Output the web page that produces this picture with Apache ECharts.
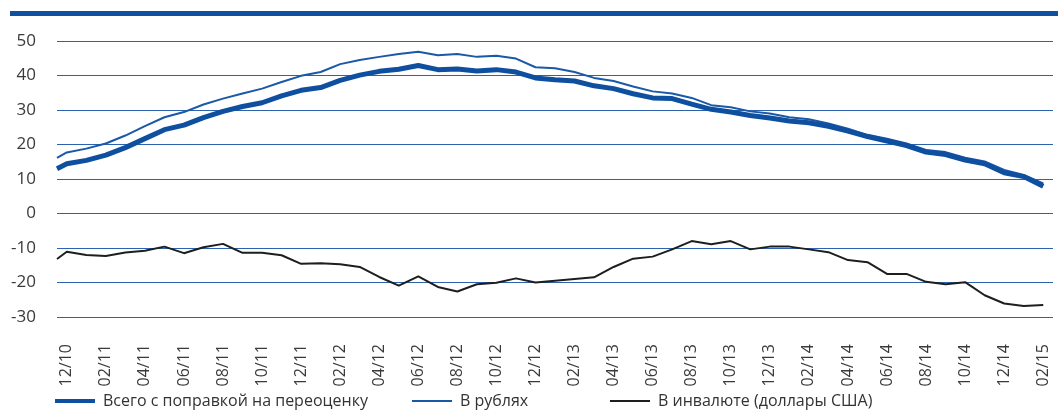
<!DOCTYPE html>
<html><head><meta charset="utf-8">
<script src="https://cdn.jsdelivr.net/npm/echarts@6/dist/echarts.min.js"></script>
<style>html,body{margin:0;padding:0;background:#fff}#c{width:1058px;height:412px}</style>
</head><body><div id="c"></div>
<script>
// Month labels (one per monthly data point, 12/10 ... 02/15)
const monthLabels = ['12/10',
 '01/11','02/11','03/11','04/11','05/11','06/11','07/11','08/11','09/11','10/11','11/11','12/11',
 '01/12','02/12','03/12','04/12','05/12','06/12','07/12','08/12','09/12','10/12','11/12','12/12',
 '01/13','02/13','03/13','04/13','05/13','06/13','07/13','08/13','09/13','10/13','11/13','12/13',
 '01/14','02/14','03/14','04/14','05/14','06/14','07/14','08/14','09/14','10/14','11/14','12/14',
 '01/15','02/15'];
// The series begin half a month before 12/10 (first value), then one value per month
const startPos = -0.5;
const seriesNames = ['Всего с поправкой на переоценку', 'В рублях', 'В инвалюте (доллары США)'];
const totalRevalued = [13.0,
 14.4,15.4,16.9,19.1,21.7,24.3,25.6,27.8,29.6,31.0,32.1,34.1,
 35.7,36.5,38.6,40.1,41.2,41.8,42.9,41.7,41.9,41.3,41.7,41.0,
 39.3,38.8,38.4,37.0,36.2,34.7,33.5,33.3,31.7,30.2,29.4,28.4,
 27.7,26.8,26.3,25.3,23.9,22.3,21.0,19.7,17.8,17.1,15.5,14.4,
 11.8,10.7,7.9];
const inRubles = [16.1,
 17.7,18.8,20.3,22.6,25.3,27.9,29.4,31.6,33.3,34.8,36.2,38.1,
 39.9,41.0,43.3,44.5,45.4,46.2,46.9,45.9,46.2,45.4,45.7,44.9,
 42.4,42.1,41.0,39.3,38.4,36.8,35.4,34.8,33.5,31.4,30.8,29.6,
 29.0,27.9,27.3,26.1,24.6,22.8,21.7,20.3,18.4,17.8,16.2,15.1,
 12.6,11.2,8.7];
const inUSD = [-13.2,
 -11.1,-12.0,-12.3,-11.3,-10.8,-9.6,-11.5,-9.8,-8.8,-11.4,-11.4,-12.1,
 -14.6,-14.4,-14.7,-15.5,-18.4,-20.9,-18.2,-21.3,-22.6,-20.5,-20.1,-18.8,
 -20.0,-19.5,-19.0,-18.5,-15.5,-13.1,-12.5,-10.4,-8.0,-8.9,-8.0,-10.4,
 -9.6,-9.6,-10.4,-11.2,-13.5,-14.1,-17.5,-17.5,-19.8,-20.5,-19.9,-23.7,
 -26.1,-26.8,-26.5];
const labelIdx = monthLabels.map((m, i) => i).filter(i => i % 2 === 0);

const xPos = [startPos].concat(monthLabels.map((m, i) => i));
const pairs = arr => arr.map((v, i) => [xPos[i], v]);

const FONT = '"Open Sans", "Noto Sans", sans-serif';
const COLORS = ['#0f4f9f', '#1a58a8', '#1e1e1e'];
const chart = echarts.init(document.getElementById('c'), null, {renderer: 'canvas'});
const legendBase = {
  orient: 'horizontal', top: 393, padding: 0, itemWidth: 40, icon: 'rect',
  textStyle: {fontFamily: FONT, fontSize: 16, color: '#333', padding: [0, 0, 0, 3]}
};
chart.setOption({
  animation: false,
  grid: {left: 57, right: 5, top: 41, bottom: 95, containLabel: false},
  graphic: [{type: 'rect', shape: {x: 10, y: 11, width: 1048, height: 5}, style: {fill: '#0f51a0'}}],
  legend: [
    Object.assign({}, legendBase, {left: 55, itemHeight: 4, data: [seriesNames[0]]}),
    Object.assign({}, legendBase, {left: 412, itemHeight: 2, data: [seriesNames[1]]}),
    Object.assign({}, legendBase, {left: 610, itemHeight: 2, data: [seriesNames[2]]})
  ],
  xAxis: {
    type: 'value', min: -0.5, max: 50.5,
    splitLine: {show: false}, axisLine: {show: false}, axisTick: {show: false},
    axisLabel: {
      customValues: labelIdx, rotate: 90, margin: 27,
      fontFamily: FONT, fontSize: 16, color: '#3a3a3a',
      formatter: v => monthLabels[Math.round(v)] || ''
    }
  },
  yAxis: {
    type: 'value', min: -30, max: 50, interval: 10,
    axisLine: {show: false}, axisTick: {show: false},
    splitLine: {lineStyle: {color: '#2d62ad', width: 1}},
    axisLabel: {fontFamily: FONT, fontSize: 17, color: '#3a3a3a', margin: 21}
  },
  series: [
    {name: seriesNames[2], type: 'line', data: pairs(inUSD), symbol: 'none',
     lineStyle: {color: COLORS[2], width: 2}, itemStyle: {color: COLORS[2]}, z: 2},
    {name: seriesNames[1], type: 'line', data: pairs(inRubles), symbol: 'none',
     lineStyle: {color: COLORS[1], width: 2}, itemStyle: {color: COLORS[1]}, z: 3},
    {name: seriesNames[0], type: 'line', data: pairs(totalRevalued), symbol: 'none',
     lineStyle: {color: COLORS[0], width: 5}, itemStyle: {color: COLORS[0]}, z: 4}
  ]
});
</script></body></html>
